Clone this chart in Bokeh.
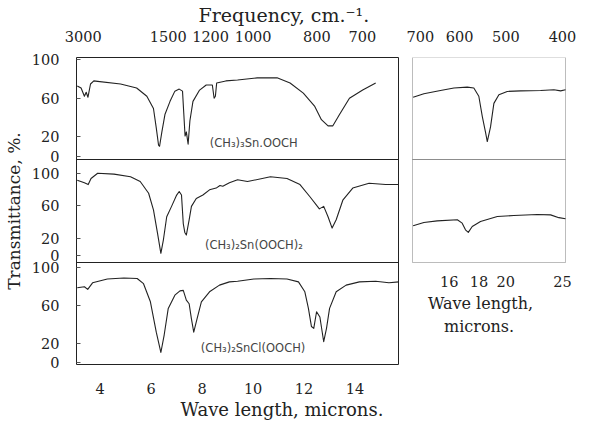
from bokeh.plotting import figure
from bokeh.layouts import row
from bokeh.models import (Range1d, LinearAxis, FixedTicker, CustomJSTickFormatter, Label,
                          Span, Title, BoxAnnotation)
from bokeh.embed import file_html
from bokeh.resources import INLINE

# ---------------- data (wave length in microns, transmittance in %) ----------------
wl_a = [3.10, 3.25, 3.38, 3.45, 3.52, 3.62, 3.75, 3.90, 4.80, 5.43, 5.83, 6.09, 6.20, 6.29,
        6.33, 6.42, 6.54, 6.74, 6.93, 7.10, 7.23, 7.28, 7.33, 7.38, 7.45, 7.52, 7.64, 7.90,
        8.16, 8.40, 8.47, 8.52, 8.57, 8.93, 9.39, 10.16, 10.94, 11.45, 11.97, 12.42, 12.68,
        12.94, 13.13, 13.39, 13.78, 14.30, 14.81]
tr_a = [72.7, 70.6, 62.1, 66.3, 61.1, 74.8, 78.0, 77.5, 74.8, 70.6, 62.1, 49.4, 29.3, 11.3,
        10.2, 25.1, 43.1, 56.8, 67.4, 69.5, 67.4, 44.1, 20.8, 25.1, 12.4, 36.7, 56.8, 68.5,
        73.8, 73.8, 60.0, 62.1, 75.9, 78.0, 79.0, 81.2, 81.2, 75.9, 65.3, 51.5, 37.8,
        31.4, 31.4, 43.1, 60.0, 68.5, 75.9]

wl_b = [3.10, 3.38, 3.53, 3.64, 3.90, 4.54, 5.19, 5.57, 5.90, 6.09, 6.25, 6.38, 6.48, 6.61,
        6.80, 7.00, 7.10, 7.19, 7.26, 7.32, 7.38, 7.49, 7.58, 7.77, 8.03, 8.29, 8.55, 8.70,
        8.81, 9.07, 9.39, 9.78, 10.68, 11.33, 11.84, 12.23, 12.60, 12.77, 12.94, 13.10,
        13.26, 13.52, 13.91, 14.55, 15.20, 15.72]
tr_b = [91.4, 88.2, 86.1, 93.5, 99.9, 98.8, 95.6, 89.8, 75.5, 55.3, 26.6, 2.2, 18.7, 46.8,
        59.5, 73.3, 77.6, 73.3, 38.3, 27.7, 24.5, 43.1, 59.5, 69.1, 73.3, 79.7, 81.8, 85.0,
        84.0, 88.2, 91.9, 89.8, 95.6, 93.5, 86.1, 71.2, 56.4, 59.5, 46.8, 33.0,
        43.1, 67.0, 81.8, 87.8, 86.1, 86.1]

wl_c = [3.10, 3.38, 3.51, 3.70, 4.28, 4.93, 5.45, 5.70, 5.97, 6.20, 6.38, 6.51, 6.67, 6.93,
        7.13, 7.26, 7.38, 7.49, 7.58, 7.67, 7.80, 7.97, 8.29, 8.68, 9.07, 9.39, 10.03, 10.68,
        11.33, 11.78, 12.03, 12.17, 12.29, 12.38, 12.49, 12.62, 12.77, 12.88, 13.00, 13.26,
        13.65, 14.17, 14.81, 15.33, 15.72]
tr_c = [78.7, 79.8, 77.0, 83.9, 87.9, 88.9, 88.4, 83.0, 64.0, 32.2, 10.9, 29.2, 57.1, 71.0,
        75.5, 76.0, 65.7, 62.0, 46.1, 32.2, 46.1, 64.0, 74.5, 81.5, 84.9, 85.6, 87.9, 88.4,
        87.9, 84.9, 74.5, 57.1, 38.1, 36.2, 53.6, 48.1, 22.2, 36.2, 57.1, 74.5,
        81.5, 84.9, 85.6, 83.9, 84.9]

wl_a_far = [13.88, 14.48, 15.46, 16.30, 17.18, 17.63, 17.98, 18.23, 18.47, 18.59, 18.83,
            19.08, 19.46, 20.11, 21.20, 22.94, 24.17, 24.82, 25.30]
tr_a_far = [61.1, 64.7, 68.0, 70.6, 71.6, 70.6, 62.1, 40.9, 24.0, 15.1, 30.3,
            54.7, 63.6, 67.1, 67.7, 68.0, 68.8, 67.7, 68.8]

wl_b_far = [13.88, 14.48, 15.26, 16.52, 16.84, 17.06, 17.25, 17.52, 18.10, 19.34, 20.64,
            22.64, 23.86, 24.65, 25.30]
tr_b_far = [35.8, 39.8, 41.8, 43.1, 39.0, 30.9, 27.7, 34.9, 41.0, 47.1, 48.3,
            49.6, 49.1, 45.7, 44.3]

compounds = ["(CH₃)₃Sn.OOCH", "(CH₃)₂Sn(OOCH)₂", "(CH₃)₂SnCl(OOCH)"]
freq_ticks_main = [3000, 1500, 1200, 1000, 800, 700]
freq_ticks_far = [700, 600, 500, 400]
wl_ticks_main = [4, 6, 8, 10, 12, 14]
wl_ticks_far = [16, 18, 20, 25]
tr_ticks = [0, 20, 60, 100]

# ---------------- styling / layout ----------------
SERIF = "DejaVu Serif"
SANS = "DejaVu Sans"
INK = "#222222"
TICK_SIZE = "14.5px"

FRAME_TOP, FRAME_BOTTOM = 57, 364          # canvas px of the stacked frame
panel_px = [(57, 159), (159, 262), (262, 364)]
# transmittance at bottom and top edge of each stacked panel
panel_limits = [(-3.53, 102.3), (-9.03, 116.7), (-1.68, 105.2)]
far_panel_x = (13.846, 25.3)               # wave-length edges of the far-IR panels


def stacked_range(ptop, pbottom, t_bottom, t_top):
    k = (t_top - t_bottom) / (pbottom - ptop)
    return Range1d(t_bottom - (FRAME_BOTTOM - pbottom) * k, t_top + (ptop - FRAME_TOP) * k)


def style_axis(ax, standoff, tick_in=0):
    ax.axis_line_color = None
    ax.major_tick_in = tick_in
    ax.major_tick_out = 0
    ax.minor_tick_in = 0
    ax.minor_tick_out = 0
    ax.major_tick_line_color = "#555555"
    ax.major_label_text_font = SERIF
    ax.major_label_text_font_size = TICK_SIZE
    ax.major_label_text_color = INK
    ax.major_label_standoff = standoff


def base(width, height, xr, log, left, right):
    p = figure(width=width, height=height, x_range=xr, y_range=Range1d(0, 1),
               x_axis_type="log" if log else "linear",
               x_axis_location=None, y_axis_location=None,
               min_border_left=left, min_border_right=right,
               min_border_top=FRAME_TOP, min_border_bottom=421 - FRAME_BOTTOM,
               output_backend="svg", toolbar_location=None)
    p.xgrid.visible = False
    p.ygrid.visible = False
    p.background_fill_color = "white"
    p.border_fill_color = "white"
    return p


freq_fmt = "return (1e4 / tick).toFixed(0);"

# ---------------- main (rock-salt) column ----------------
L = base(404, 421, Range1d(3.07, 15.705), False, 72, 6)
L.outline_line_color = INK
L.outline_line_width = 1
names = ["p1", "p2", "p3"]
L.extra_y_ranges = {n: stacked_range(px[0], px[1], lim[0], lim[1])
                    for n, px, lim in zip(names, panel_px, panel_limits)}

for n, xs, ys in zip(names, [wl_a, wl_b, wl_c], [tr_a, tr_b, tr_c]):
    L.line(xs, ys, y_range_name=n, line_color=INK, line_width=1.1, line_join="round")

for n, lim in zip(names[:2], panel_limits[:2]):
    L.add_layout(Span(location=lim[0], dimension="width", y_range_name=n,
                      line_color=INK, line_width=1))

# one left axis carrying the ticks of all three panels
tick_pos, tick_lab = [], []
for n in names:
    r = L.extra_y_ranges[n]
    for t in tr_ticks:
        tick_pos.append((t - r.start) / (r.end - r.start))
        tick_lab.append(str(t))
yax = LinearAxis(
    ticker=FixedTicker(ticks=tick_pos),
    formatter=CustomJSTickFormatter(args=dict(pos=tick_pos, lab=tick_lab), code="""
        let best = 0, d = Infinity;
        for (let i = 0; i < pos.length; i++) {
            const e = Math.abs(pos[i] - tick);
            if (e < d) { d = e; best = i; }
        }
        return lab[best];
    """),
    axis_label="Transmittance, %.")
style_axis(yax, 17, tick_in=4)
yax.axis_label_text_font = SERIF
yax.axis_label_text_font_size = "17px"
yax.axis_label_text_font_style = "normal"
yax.axis_label_text_color = INK
yax.axis_label_standoff = 5
L.add_layout(yax, "left")

label_pos = [(8.30, 14.1), (8.11, 12.9), (7.95, 16.1)]
for n, name, (lx, ly) in zip(names, compounds, label_pos):
    L.add_layout(Label(x=lx, y=ly, y_range_name=n, text=name, text_align="left",
                       text_baseline="middle", text_font=SANS, text_font_size="11.5px",
                       text_color="#444444"))

top_main = LinearAxis(ticker=FixedTicker(ticks=[1e4 / f for f in freq_ticks_main]),
                      formatter=CustomJSTickFormatter(code=freq_fmt))
style_axis(top_main, 16)
L.add_layout(top_main, "above")
L.add_layout(Title(text="Frequency, cm.⁻¹.", align="left", offset=122, standoff=0,
                   vertical_align="top", text_font=SERIF, text_font_size="19px",
                   text_font_style="normal", text_color=INK), "above")

bottom_main = LinearAxis(ticker=FixedTicker(ticks=wl_ticks_main))
style_axis(bottom_main, 18)
L.add_layout(bottom_main, "below")
L.add_layout(Title(text="Wave length, microns.", align="left", offset=104, standoff=0,
                   text_font=SERIF, text_font_size="18px", text_font_style="normal",
                   text_color=INK), "below")

# ---------------- far-infrared column ----------------
R = base(173, 421, Range1d(13.737, 26.11), True, 6, 4)
R.outline_line_color = None
R.extra_y_ranges = {
    "q1": stacked_range(panel_px[0][0], panel_px[0][1], *panel_limits[0]),
    "q2": stacked_range(panel_px[1][0], panel_px[1][1], *panel_limits[1]),
}
for n, lim in zip(["q1", "q2"], panel_limits[:2]):
    R.add_layout(BoxAnnotation(left=far_panel_x[0], right=far_panel_x[1],
                               bottom=lim[0], top=lim[1], y_range_name=n,
                               fill_color=None, line_color=INK, line_width=1))
R.line(wl_a_far, tr_a_far, y_range_name="q1", line_color=INK, line_width=1.1, line_join="round")
R.line(wl_b_far, tr_b_far, y_range_name="q2", line_color=INK, line_width=1.1, line_join="round")

top_far = LinearAxis(ticker=FixedTicker(ticks=[1e4 / f for f in freq_ticks_far]),
                     formatter=CustomJSTickFormatter(code=freq_fmt))
style_axis(top_far, 16)
R.add_layout(top_far, "above")

for w in wl_ticks_far:
    R.add_layout(Label(x=w, y=-32.2, y_range_name="q2", text=str(w), text_align="center",
                       text_baseline="middle", text_font=SERIF, text_font_size=TICK_SIZE,
                       text_color=INK))
R.add_layout(Label(x=18.1, y=-59.1, y_range_name="q2", text="Wave length,",
                   text_align="center", text_baseline="middle", text_font=SERIF,
                   text_font_size="16px", text_color=INK))
R.add_layout(Label(x=18.0, y=-87.2, y_range_name="q2", text="microns.",
                   text_align="center", text_baseline="middle", text_font=SERIF,
                   text_font_size="16px", text_color=INK))

layout = row(L, R)
open("out.html", "w").write(file_html(layout, INLINE))
